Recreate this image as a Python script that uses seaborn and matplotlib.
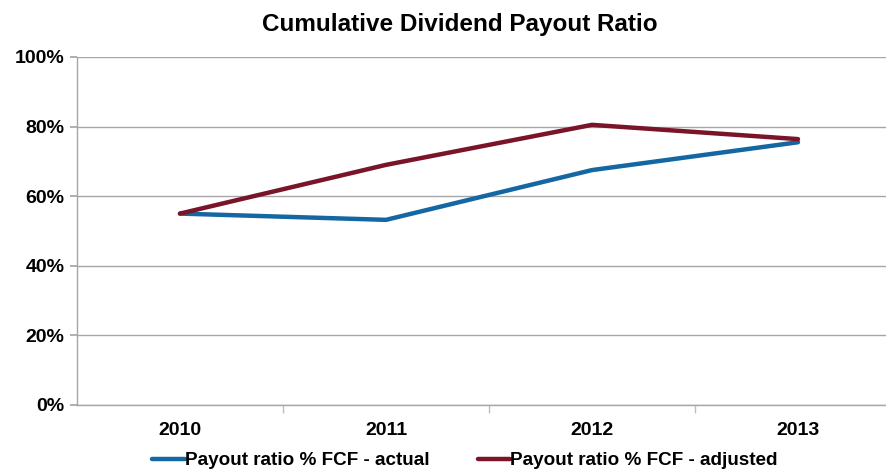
import matplotlib
matplotlib.use("Agg")
import matplotlib.pyplot as plt
import seaborn as sns
import pandas as pd
import numpy as np
from matplotlib.ticker import FixedLocator
from matplotlib.lines import Line2D

years = ["2010", "2011", "2012", "2013"]
actual = [55.0, 53.2, 67.5, 75.5]
adjusted = [55.0, 69.0, 80.5, 76.4]
series_names = ["Payout ratio % FCF - actual", "Payout ratio % FCF - adjusted"]
colors = ["#1467A3", "#7A1428"]
y_ticks = [0, 20, 40, 60, 80, 100]

sns.set_theme(style="white")
plt.rcParams["font.family"] = ["Liberation Sans", "DejaVu Sans"]
plt.rcParams["text.color"] = "black"
plt.rcParams["xtick.color"] = "black"
plt.rcParams["ytick.color"] = "black"

df = pd.DataFrame({
    "year": years * 2,
    "value": actual + adjusted,
    "series": [series_names[0]] * 4 + [series_names[1]] * 4,
})
df["pos"] = df["year"].map({y: i for i, y in enumerate(years)})

fig = plt.figure(figsize=(8.86, 4.69), dpi=100)
ax = fig.add_axes([0.0869, 0.1365, 0.930, 0.742])

sns.lineplot(data=df, x="pos", y="value", hue="series", palette=colors,
             linewidth=3.2, ax=ax, legend=False, sort=False)

ax.set_xlim(-0.5, 3.5)
ax.set_ylim(0, 100)
ax.set_yticks(y_ticks)
ax.set_yticklabels([f"{v}%" for v in y_ticks], fontsize=14, fontweight="bold")
ax.set_xticks(range(len(years)))
ax.set_xticklabels(years, fontsize=14, fontweight="bold")
ax.xaxis.set_minor_locator(FixedLocator([0.5, 1.5, 2.5]))
ax.tick_params(axis="x", which="major", length=0, pad=12, labelcolor="black")
ax.tick_params(axis="x", which="minor", length=6, color="#BFBFBF", direction="out", bottom=True)
ax.tick_params(axis="y", length=5, color="#A6A6A6", direction="out", left=True, pad=4, labelcolor="black")
ax.yaxis.grid(True, color="#A6A6A6", linewidth=1)
ax.set_axisbelow(True)
ax.set_xlabel("")
ax.set_ylabel("")
for s in ["top", "right"]:
    ax.spines[s].set_visible(False)
for s in ["left", "bottom"]:
    ax.spines[s].set_color("#A6A6A6")
    ax.spines[s].set_linewidth(1)

fig.text(0.519, 0.948, "Cumulative Dividend Payout Ratio", ha="center", va="center",
         fontsize=17.5, fontweight="bold", color="black")

handles = [Line2D([0], [0], color=c, linewidth=3.2) for c in colors]
fig.legend(handles, series_names, loc="center", bbox_to_anchor=(0.525, 0.018),
           ncol=2, frameon=False, handlelength=1.7, handletextpad=0.0,
           columnspacing=2.6, prop={"size": 13.6, "weight": "bold"})

fig.savefig("out.png", dpi=100)
